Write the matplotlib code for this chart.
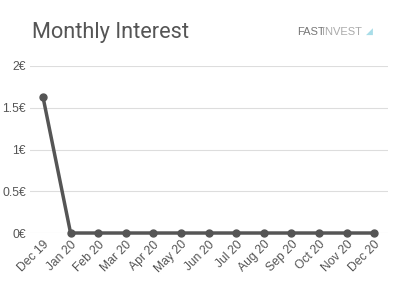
import matplotlib
matplotlib.use("Agg")
import matplotlib.pyplot as plt

plt.rcParams['font.family'] = ['Liberation Sans', 'DejaVu Sans']

months = ["Dec 19", "Jan 20", "Feb 20", "Mar 20", "Apr 20", "May 20", "Jun 20",
          "Jul 20", "Aug 20", "Sep 20", "Oct 20", "Nov 20", "Dec 20"]
interest = [1.63, 0, 0, 0, 0, 0, 0, 0, 0, 0, 0, 0, 0]
yticks = [0, 0.5, 1, 1.5, 2]
ylabels = ["0€", "0.5€", "1€", "1.5€", "2€"]

fig = plt.figure(figsize=(4, 3), dpi=100)
ax = fig.add_axes([0.075, 0.2233, 0.895, 0.5567])

x = list(range(len(months)))
ax.plot(x, interest, color="#555555", lw=2.5, marker="o", markersize=5, clip_on=False, zorder=3)

ax.set_xlim(-0.47, 12.5)
ax.set_ylim(0, 2)
ax.set_yticks(yticks)
ax.set_yticklabels(ylabels)
ax.set_xticks(x)
ax.set_xticklabels(months, rotation=45, ha="right", rotation_mode="anchor")
ax.tick_params(axis="both", length=0, labelsize=8.7, labelcolor="#555555")
ax.tick_params(axis="y", pad=3)
ax.tick_params(axis="x", pad=4)
ax.grid(axis="y", color="#dddddd", lw=0.8)
ax.set_axisbelow(True)
for s in ax.spines.values():
    s.set_visible(False)

fig.text(0.08, 0.892, "Monthly Interest", fontsize=15.7, color="#555555", va="center",
         family="Roboto")
fig.text(0.742, 0.893, "FAST", fontsize=8, color="#777777", va="center")
fig.text(0.806, 0.893, "INVEST", fontsize=8, color="#aaaaaa", va="center")
fig.text(0.915, 0.895, "◢", fontsize=6.5, color="#a8dde8", va="center", family="DejaVu Sans")

fig.savefig("out.png", dpi=100)
